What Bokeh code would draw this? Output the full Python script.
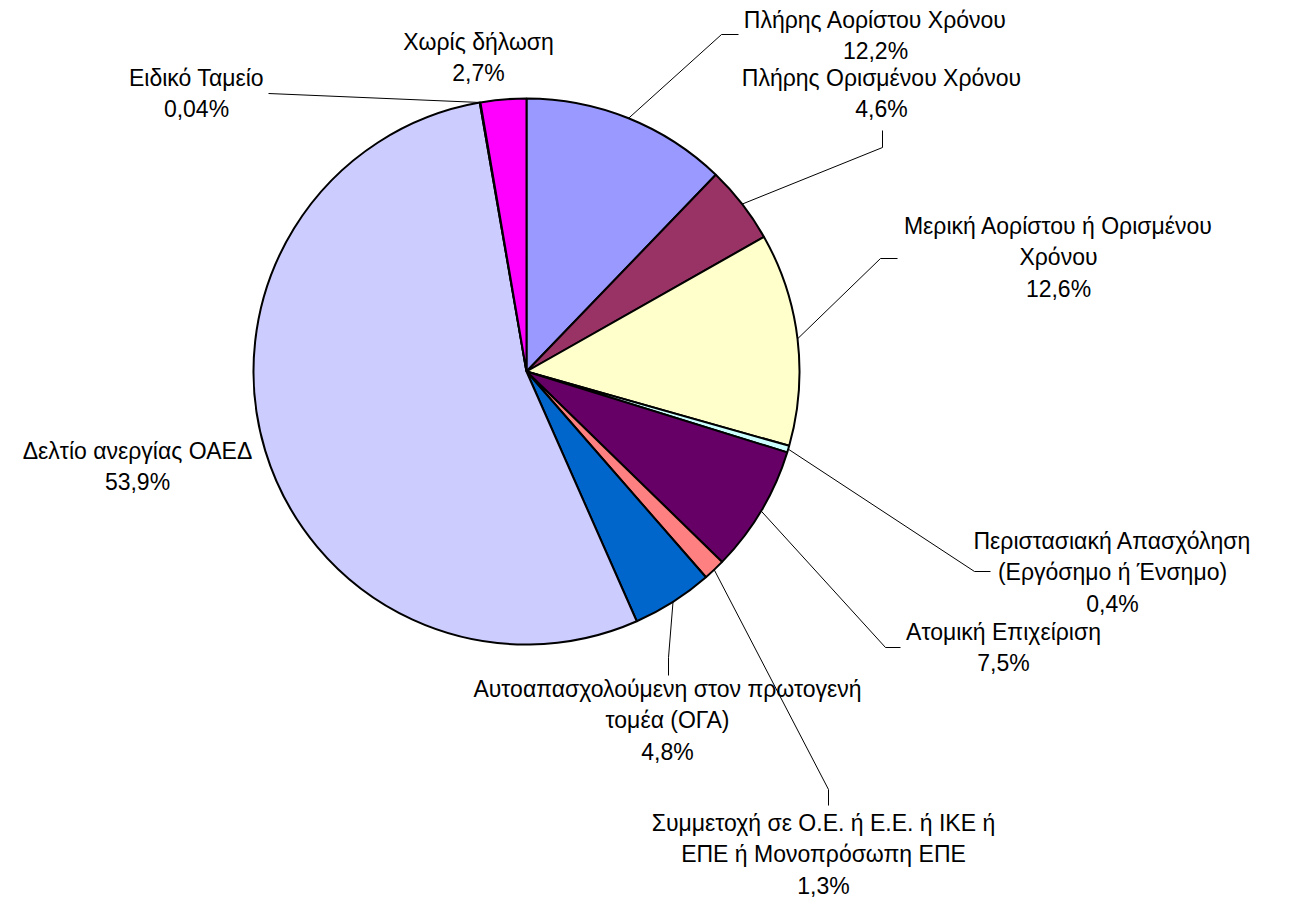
from bokeh.plotting import figure
from bokeh.models import Range1d, ColumnDataSource
from bokeh.core.properties import value
from bokeh.embed import file_html
from bokeh.resources import INLINE
import math

# ---- data ----
categories = [
    "Πλήρης Αορίστου Χρόνου",
    "Πλήρης Ορισμένου Χρόνου",
    "Μερική Αορίστου ή Ορισμένου\nΧρόνου",
    "Περιστασιακή Απασχόληση\n(Εργόσημο ή Ένσημο)",
    "Ατομική Επιχείριση",
    "Συμμετοχή σε Ο.Ε. ή Ε.Ε. ή ΙΚΕ ή\nΕΠΕ ή Μονοπρόσωπη ΕΠΕ",
    "Αυτοαπασχολούμενη στον πρωτογενή\nτομέα (ΟΓΑ)",
    "Δελτίο ανεργίας ΟΑΕΔ",
    "Ειδικό Ταμείο",
    "Χωρίς δήλωση",
]
shares = [12.2, 4.6, 12.6, 0.4, 7.5, 1.3, 4.8, 53.9, 0.04, 2.7]
share_labels = ["12,2%", "4,6%", "12,6%", "0,4%", "7,5%", "1,3%", "4,8%", "53,9%", "0,04%", "2,7%"]

# ---- styles / layout (page pixel coordinates) ----
colors = ["#9999FF", "#993366", "#FFFFCC", "#CCFFFF", "#660066",
          "#FF8080", "#0066CC", "#CCCCFF", "#000080", "#FF00FF"]
CX, CY, R = 526, 371, 273
label_pos = [(875, 35), (881, 93), (1058, 257), (1112, 572), (1003, 647),
             (823, 854), (667, 720), (137, 466), (196, 93), (478, 57)]
# leader line path after the pie edge point (None = no leader)
leader_path = [
    [(721, 34), (738, 34)],
    [(882, 147), (882, 130)],
    [(880, 258), (897, 258)],
    [(974, 571), (990, 571)],
    [(885, 647), (900, 647)],
    [(828, 789), (828, 805)],
    [(668, 657), (668, 675)],
    None,
    [(268, 93)],
    None,
]

W, H = 1291, 898
def py(y):  # page y -> data y
    return H - y

p = figure(width=W, height=H, x_range=Range1d(0, W), y_range=Range1d(0, H),
           output_backend="svg", toolbar_location=None, min_border=0)
p.axis.visible = False
p.grid.visible = False
p.outline_line_color = None
p.background_fill_color = "white"

total = sum(shares)
starts, ends, mids = [], [], []
cum = 0.0
for s in shares:
    a0 = math.pi / 2 - 2 * math.pi * cum / total
    cum += s
    a1 = math.pi / 2 - 2 * math.pi * cum / total
    starts.append(a1)
    ends.append(a0)
    mids.append((a0 + a1) / 2)

src = ColumnDataSource(dict(x=[CX] * len(shares), y=[py(CY)] * len(shares),
                            start=starts, end=ends, color=colors))
p.wedge(x="x", y="y", radius=R, start_angle="start", end_angle="end",
        direction="anticlock", fill_color="color", line_color="black",
        line_width=2, source=src)

# leader lines
xs, ys = [], []
for m, path in zip(mids, leader_path):
    if path is None:
        continue
    ex = CX + R * math.cos(m)
    ey = CY - R * math.sin(m)
    pts = [(ex, ey)] + path
    xs.append([q[0] for q in pts])
    ys.append([py(q[1]) for q in pts])
p.multi_line(xs=xs, ys=ys, line_color="black", line_width=1)

# labels
texts = [c + "\n" + l for c, l in zip(categories, share_labels)]
tsrc = ColumnDataSource(dict(x=[q[0] for q in label_pos], y=[py(q[1]) for q in label_pos], t=texts))
p.text(x="x", y="y", text="t", source=tsrc, text_align="center", text_baseline="middle",
       text_font=value("Liberation Sans"), text_font_size="23px", text_color="black",
       text_line_height=1.2)

open("out.html", "w").write(file_html(p, INLINE))
